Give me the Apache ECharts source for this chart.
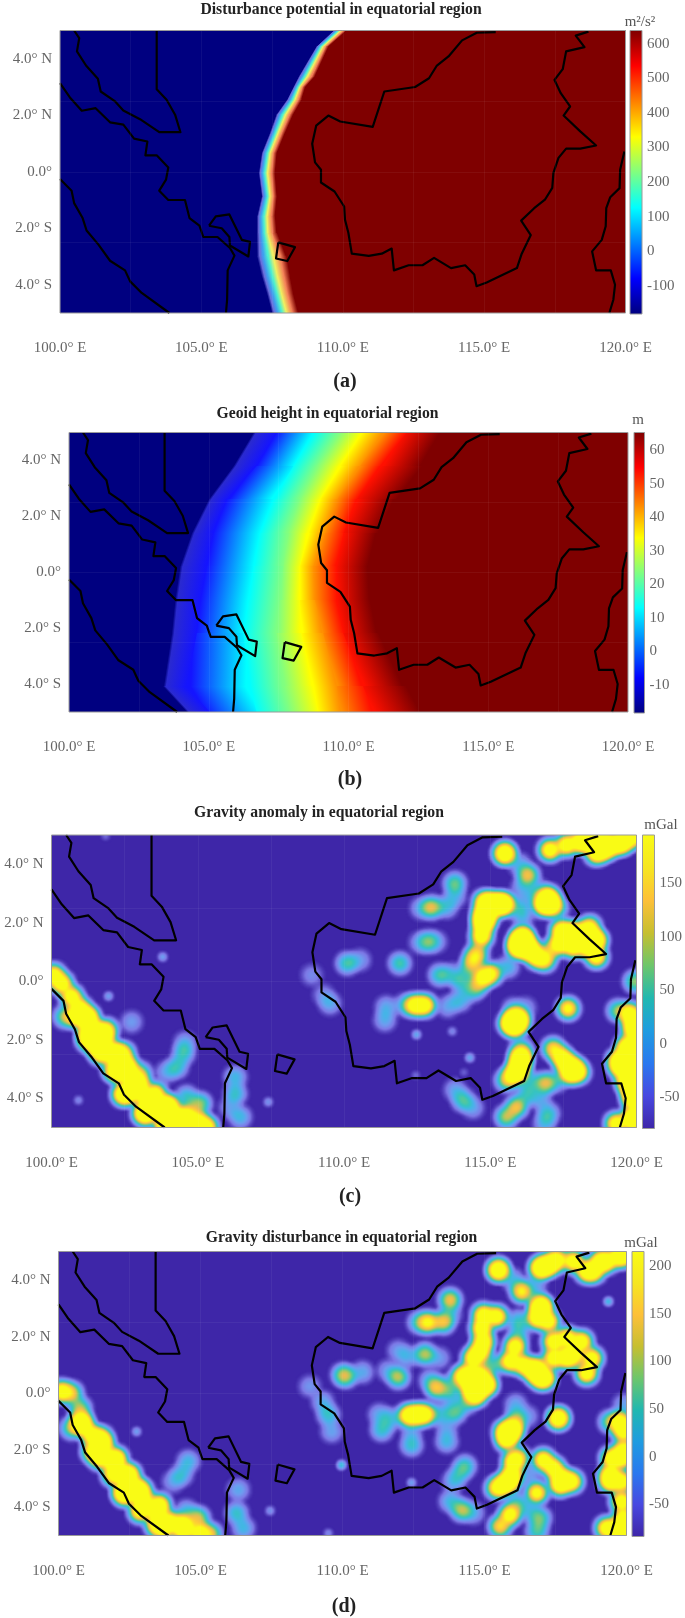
<!DOCTYPE html>
<html><head><meta charset="utf-8">
<style>html,body{margin:0;padding:0;background:#fff}#c{width:685px;height:1618px}</style>
<script src="https://cdn.jsdelivr.net/npm/echarts@6/dist/echarts.min.js"></script>
</head><body><div id="c"></div>
<script>
// ---------- coastlines [lon, lat] ----------
const malayCoast=[[100.50,5],[100.68,4.73],[100.60,4.26],[100.92,3.76],[101.34,3.29],[101.44,2.84],[101.95,2.49],[102.24,2.17],[102.83,1.86],[103.51,1.40],[104.26,1.40],[104.07,2.02],[103.77,2.55],[103.42,2.92],[103.42,5]];
const sumatraEast=[[100,3.14],[100.35,2.63],[100.77,2.16],[101.26,2.25],[101.77,1.75],[102.24,1.67],[102.62,1.17],[103.09,1.07],[103.02,0.58],[103.42,0.58],[103.83,0.15],[103.75,-0.28],[103.51,-0.67],[103.83,-1],[104.42,-1],[104.58,-1.64],[104.93,-1.91],[105.07,-2.31],[105.57,-2.31],[106.01,-2.70],[106.17,-2.97],[105.93,-3.49],[105.91,-4.53],[105.87,-5]];
const sumatraWest=[[100,-0.26],[100.41,-0.67],[100.50,-1.11],[100.80,-1.64],[100.94,-2.08],[101.36,-2.58],[101.77,-3.15],[102.30,-3.49],[102.48,-3.88],[102.89,-4.29],[103.87,-5]];
const bangka=[[105.27,-1.91],[105.51,-1.58],[105.99,-1.51],[106.43,-2.41],[106.72,-2.48],[106.66,-3.0],[106.01,-2.61],[105.99,-2.31],[105.72,-2.0],[105.27,-1.91]];
const belitung=[[107.72,-2.5],[108.31,-2.67],[108.04,-3.16],[107.64,-3.07],[107.72,-2.5]];
const borneo=[[115.41,4.94],[114.74,4.92],[114.22,4.65],[113.74,4.08],[113.33,3.76],[113.05,3.31],[112.56,3.0],[111.47,2.84],[111.06,1.59],[109.91,1.78],[109.49,1.99],[109.06,1.63],[108.92,0.99],[109.02,0.33],[109.23,0.07],[109.23,-0.38],[109.71,-0.70],[110.05,-1.23],[110.08,-1.70],[110.20,-2.17],[110.32,-2.90],[110.92,-2.98],[111.38,-2.90],[111.73,-2.72],[111.81,-3.49],[112.33,-3.31],[112.82,-3.31],[113.23,-3.05],[113.83,-3.41],[114.33,-3.31],[114.65,-3.64],[114.73,-4.05],[115.09,-3.92],[116.16,-3.41],[116.33,-2.90],[116.65,-2.24],[116.31,-1.73],[116.77,-1.29],[117.15,-0.99],[117.41,-0.57],[117.45,-0.04],[117.63,0.49],[117.90,0.82],[118.40,0.82],[118.96,0.93],[118.40,1.43],[117.81,1.99],[118.04,2.31],[117.71,2.78],[117.49,3.25],[117.78,3.63],[117.90,4.26],[118.55,4.41],[118.24,4.82],[118.69,4.96]];
const sulawesi=[[119.96,0.72],[119.81,0.07],[119.79,-0.58],[119.46,-0.90],[119.32,-1.29],[119.30,-1.93],[119.16,-2.41],[118.82,-2.82],[118.96,-3.49],[119.48,-3.49],[119.63,-4.0],[119.57,-4.53],[119.43,-5]];
const coastlines=[malayCoast,sumatraEast,sumatraWest,bangka,belitung,borneo,sulawesi];

// ---------- panel (a): contour lines of disturbance potential, longitude at each latitude ----------
const latsA=[5,4.43,3.37,3,2.55,2.02,1.37,0.66,-0.05,-0.87,-1.58,-2.17,-3,-3.7,-4.3,-5];
const isoA0=[109.67,109.06,108.43,108.25,108.02,107.64,107.41,107.13,107.02,107.13,106.96,106.96,106.96,107.13,107.31,107.49];
const isoA1=[109.72,109.10,108.49,108.29,108.07,107.70,107.47,107.18,107.08,107.18,107.03,107.03,107.07,107.23,107.40,107.58];
const isoA2=[109.77,109.15,108.56,108.34,108.14,107.77,107.53,107.25,107.15,107.25,107.10,107.12,107.19,107.35,107.52,107.70];
const isoA3=[109.85,109.22,108.65,108.41,108.22,107.87,107.62,107.34,107.24,107.34,107.21,107.23,107.36,107.51,107.67,107.85];
const isoA4=[109.93,109.30,108.75,108.48,108.31,107.98,107.71,107.43,107.34,107.43,107.32,107.35,107.54,107.69,107.83,108.01];
const isoA5=[110.04,109.40,108.89,108.58,108.43,108.12,107.84,107.55,107.48,107.55,107.47,107.51,107.79,107.92,108.04,108.22];
const isoA6=[110.14,109.49,109.02,108.67,108.55,108.25,107.96,107.67,107.61,107.67,107.61,107.67,108.02,108.14,108.25,108.43];
const colorsA=['#000080','#6a6cdc','#3f9ff0','#4cf0d0','#f0f060','#f48058','#7f0000'];

// ---------- panel (b): contour lines of geoid height ----------
const latsB=[5,3.8,2.6,1.4,0.2,-1,-2.2,-4.1,-5];
const isoB0=[106.60,105.88,104.99,104.39,103.97,103.79,103.67,103.38,104.21];
const isoB1=[106.70,105.98,105.09,104.49,104.07,103.89,103.77,103.48,104.31];
const isoB2=[107.43,106.71,105.64,105.16,104.93,104.69,104.57,104.21,105.04];
const isoB3=[108.74,108.03,107.31,106.83,106.60,106.42,106.24,106.48,106.71];
const isoB4=[109.70,108.86,108.26,107.79,107.67,107.55,107.43,107.67,107.91];
const isoB5=[110.47,109.70,108.98,108.56,108.26,108.26,108.32,108.74,108.92];
const isoB6=[111.25,110.41,109.58,109.16,108.74,108.80,109.10,109.58,109.70];
const isoB7=[112.08,111.13,110.29,109.82,109.58,109.58,109.82,110.53,110.89];
const isoB8=[113.15,112.68,111.66,111.01,110.65,110.77,111.01,112.02,112.62];
const colorsB=['#000080','#2a2ad0','#1414ff','#00ffff','#80ff80','#ffff00','#ff9000','#ff1000','#7f0000'];

// ---------- panel (c): gravity anomaly features [lon, lat, strength] ----------
const blobsC=[[100.07,0.22,1],[100.35,-0.07,1],[100.69,-0.52,1],[100.98,-0.92,1],[101.23,-1.32,1],[101.49,-1.72,1],[101.78,-2,1],[102.12,-2.46,1],[102.40,-2.86,1],[102.71,-3.26,1],[102.92,-3.71,1],[103.26,-4.05,1],[103.66,-4.34,1],[104.05,-4.57,1],[104.51,-4.79,1],[105.02,-4.79,1],[105.31,-4.97,1],[100.47,-1.2,0.5],[101.55,-2.23,1],[101.26,-2,1],[101.89,-1.66,0.8],[102.46,-2.46,0.8],[102.12,-3.03,0.8],[103.03,-3.14,0.5],[102.57,-3.83,1],[103.26,-4.51,1],[103.94,-4.23,1],[103.94,-4.91,1],[104.62,-3.94,0.3],[105.08,-4.17,0.45],[104.74,-4.51,0.55],
[101.25,-1.2,1],[101.7,-1.78,1],[102.2,-2.46,1],[102.6,-2.9,1],[103,-3.48,1],[103.55,-3.83,1],[104,-4.28,1],[104.5,-4.63,1],[100.85,-1.2,1],[101.25,-1.78,1],[101.7,-2.46,1],[102.3,-3.1,1],[102.45,-3.85,1],[103.15,-4.5,1],[103.9,-4.9,1],
[102.74,-1.38,0.16],[104.51,-2.46,0.3],[104.28,-2.92,0.3],[103.94,-3.09,0.18],[104.57,-2.1,0.2],[106.28,-3.26,0.25],[106.28,-3.83,0.3],[106.45,-4.62,0.25],[106.1,-4.3,0.15],[109.52,-0.75,0.2],[109.3,-0.45,0.12],[108.9,0.22,0.12],
[110.11,0.62,0.35],[110.54,0.73,0.16],[111.91,0.62,0.35],[112.88,1.36,0.35],[112.6,1.33,0.16],[113.15,1.36,0.16],[113.79,3.35,0.4],[113.79,2.9,0.2],[113,2.53,0.55],[112.65,2.5,0.2],[113.5,2.55,0.25],
[115.5,4.37,1],[115.5,4.37,0.6],[117.04,4.49,1],[117.6,4.66,1],[118.06,4.77,1],[118.29,4.77,1],[118.63,4.72,1],[118.63,4.37,1],[118.86,4.49,1],[119.09,4.6,1],[119.43,4.72,1],[119.54,4.77,1],[119.88,4.94,1],[118.86,4.8,1],
[116.29,3.63,0.6],[116.0,4.0,0.2],[116.1,3.2,0.2],[116.7,3.1,0.2],[114.98,2.67,1],[115.44,2.67,1],[114.81,2.72,1],[115.21,2.67,1],[115.44,2.61,1],[114.76,2.32,1],[114.93,2.27,1],[114.76,1.92,1],[114.76,2.1,1],[114.7,1.53,1],[114.55,0.96,0.6],[114.42,0.73,0.6],[114.3,0.45,0.35],[114.76,0.16,0.9],[115.04,0.27,0.8],[114.6,-0.1,0.4],
[116.01,2.55,0.25],[116.1,2.2,0.2],[116.5,2.9,0.2],[116.98,2.72,1],[116.98,2.89,1],[116.81,2.61,1],[117.09,2.61,1],[117.3,2.5,0.3],[116.12,1.41,1],[115.99,1.19,1],[116.12,1.53,1],[115.95,1.18,1],[116.29,1.13,1],[116.58,0.84,1],[116.86,0.73,0.8],[116.01,1.41,1],[116.35,1.1,1],[115.6,0.5,0.25],
[117.6,1.53,1],[118.06,1.53,1],[118.52,1.42,1],[118.63,0.85,1],[117.38,1.3,1],[118.4,1.87,0.8],[117.1,1.1,0.5],[117.43,1.75,1],[117.83,1.7,1],[117.83,1.18,1],[118.29,1.64,1],[118.63,1.41,1],[118.29,1.18,1],
[113.28,0.22,0.35],[113.7,0.25,0.2],[114,0,0.3],[112.42,-0.81,1],[112.76,-0.81,1],[112.1,-0.8,0.25],[111.45,-0.87,0.2],[111.4,-1.32,0.2],[113.96,-0.64,0.25],[113.55,-0.85,0.18],[114.4,-0.3,0.3],
[115.84,-1.38,1],[115.84,-1.26,1],[115.84,-1.55,1],[115.67,-1.43,1],[116.01,-1.32,1],[115.8,-0.95,0.25],[116.2,-0.9,0.15],[117.66,-0.92,0.85],[116.01,-2.69,1],[116.07,-2.57,1],[116.01,-2.92,1],[115.9,-3.09,0.9],[115.78,-3.2,0.8],[115.55,-3.37,0.5],[116.05,-2.3,0.4],[117.15,-2.29,0.7],[117.43,-2.57,0.9],[117.6,-2.8,1],[117.83,-2.92,1],[117.72,-3.14,1],[118,-3.09,1],
[116.86,-3.48,0.55],[116.35,-3.4,0.25],[117.25,-3.4,0.25],[115.9,-4.28,0.6],[115.55,-4.62,0.5],[116.25,-3.85,0.3],[116.98,-4.51,0.3],[116.85,-4.85,0.2],[116.7,-4.0,0.2],[114.07,-4.05,0.35],[113.8,-3.7,0.18],[114.4,-4.3,0.18],
[119.77,-1.09,1],[119.9,-1.4,1],[119.88,-1.66,1],[119.65,-2.23,1],[119.65,-2.58,1],[119.37,-2.69,1],[119.43,-2.92,1],[119.65,-2.92,1],[119.65,-3.37,1],[119.77,-3.6,1],[119.88,-3.83,1],[119.88,-4.05,1],[119.88,-4.62,1],[119.88,-4.74,1],[119.31,-4.85,1],[119.88,-2.2,1],[119.94,-2.69,1],[119.37,-1,0.45],[119.94,0,0.45],[119.9,-3,1]];
const dotsC=[[103.80,0.84,0.3],[101.95,-0.5,0.3],[100.92,-4.05,0.2],[107.41,-4.11,0.25],[112.48,-1.81,0.35],[113.70,-1.7,0.2],[114.3,-2.6,0.35],[101.85,4.97,0.12],[112.45,-3.2,0.12],[114.1,-3.1,0.1]];

// ---------- panel (d): gravity disturbance features [lon, lat, strength] ----------
const blobsD=[[100.11,0.07,1],[100.46,0.01,0.6],[100.75,-0.52,0.5],[100.81,-0.99,1],[101.16,-1.46,1],[101.57,-1.81,1],[101.93,-2.39,1],[102.34,-2.86,1],[102.75,-3.33,1],[102.98,-3.8,1],[103.45,-4.15,1],[103.92,-4.51,1],[104.39,-4.8,1],[104.98,-4.92,1],[105.35,-4.95,0.6],[101.46,-2.28,1],[102.28,-3.45,1],[103.45,-4.62,1],[100.46,-1.22,0.45],[104.92,-4.39,0.55],[104.51,-4.15,0.25],
[100.8,-1.1,1],[101.5,-1.57,1],[102.03,-2.28,1],[102.5,-2.86,1],[102.91,-3.45,1],[103.56,-3.92,1],[104.38,-4.62,1],[101.22,-2.04,1],[101.93,-2.86,1],[102.34,-3.57,1],[102.87,-4.15,1],[103.69,-4.74,1],
[104.57,-2.39,0.25],[104.33,-2.86,0.25],[104.04,-3.1,0.16],[106.33,-3.39,0.2],[106.27,-4.21,0.3],[106.51,-4.74,0.25],[108.85,0.25,0.15],[109.5,-0.75,0.3],[109.3,-0.3,0.2],[109.62,-1.34,0.18],[110,0.66,0.35],
[115.49,4.35,1],[115.49,4.35,0.6],[117.07,4.47,1],[117.31,4.53,1],[117.54,4.71,1],[118.13,4.65,1],[118.84,4.3,1],[119.07,4.65,1],[119.3,4.65,1],[119.77,4.82,1],[118.6,4.3,1],[116.96,4.41,1],[119.9,4.9,1],
[116.31,3.59,0.8],[116.0,4.0,0.22],[116.8,3.85,0.18],[113.79,3.3,0.6],[113.79,2.8,0.2],[113.02,2.5,0.8],[113.55,2.51,0.6],[112.7,2.5,0.35],[112.9,1.38,0.5],[112.3,1.3,0.2],[111.96,1.5,0.16],[113.4,1.25,0.16],
[111.96,0.58,0.5],[110.14,0.6,0.35],[110.7,0.75,0.2],[111.6,0.8,0.16],[113.32,0.19,0.6],[113.1,0.45,0.25],[113.8,0.3,0.25],
[114.96,2.77,1],[115.43,2.71,1],[114.9,2.3,1],[114.96,1.83,1],[114.61,1.24,1],[114.84,1.48,1],[114.43,0.66,1],[114.84,0.66,1],[115.08,0.31,1],[114.61,0.07,1],[114.49,0.3,1],[114.96,0.3,1],[114.72,-0.05,1],[114.2,0.6,0.8],
[117.02,3.06,1],[116.84,2.65,1],[117.25,2.54,1],[116.96,3,1],[116.2,2.55,0.3],[116.2,2.1,0.25],[116.85,3.3,0.25],
[116.08,1.65,1],[115.9,1.13,1],[116.37,1.01,1],[116.84,0.89,1],[117.13,0.54,1],[117.43,1.24,1],[117.43,1.83,1],[117.9,1.95,1],[118.42,1.83,1],[118.78,1.24,1],[118.6,0.71,1],[118.13,1.36,1],[116.96,0.54,1],[116.72,0.77,1],[117.9,1.25,1],[115.3,1,0.35],
[112.61,-0.74,1],[112.32,-0.77,1],[112.9,-0.74,1],[111.38,-1.28,0.3],[111.3,-0.75,0.2],[111.7,-0.9,0.25],[112.43,-1.81,0.3],[112.43,-1.3,0.16],[113.67,-1.69,0.25],[113.67,-1.2,0.16],[113.96,-0.66,0.4],[113.43,-0.72,0.25],[114.4,-0.3,0.35],[113.8,-0.05,0.25],
[115.72,-1.34,1],[116.02,-1.22,1],[115.78,-1.63,1],[115.9,-1.4,1],[116.1,-0.9,0.4],[116.1,-0.4,0.2],[116.5,-0.8,0.16],[117.6,-0.87,1],[117.6,-0.87,0.5],[116.02,-2.39,1],[115.96,-2.86,1],[115.9,-3.1,1],[115.66,-3.22,1],[115.43,-3.33,0.8],[116.2,-2.25,0.6],[117.07,-2.34,1],[117.43,-2.63,1],[117.72,-2.98,1],[118.07,-3.1,1],[117.66,-3.22,1],
[116.84,-3.5,0.9],[116.6,-2.85,0.16],[115.9,-4.27,0.95],[115.55,-4.68,0.7],[116.15,-3.9,0.35],[116.95,-4.39,0.4],[116.6,-4.15,0.2],[116.85,-4.85,0.35],[114.31,-2.56,0.35],[113.9,-3.1,0.2],[114.1,-2.85,0.2],[114.2,-4.1,0.5],[113.8,-3.8,0.25],[114.6,-4.2,0.2],
[119.9,-0.4,0.18],[119.42,-1,0.45],[119.77,-0.99,1],[119.89,-1.34,1],[119.48,-2.28,1],[119.83,-2.28,1],[119.42,-2.86,1],[119.83,-3.1,1],[119.9,-2,1],[119.42,-3.1,1],[119.83,-3.8,1],[119.89,-4.39,1],[119.3,-4.74,1],[119.66,-4.8,1],[119.9,-4.85,1]];
const dotsD=[[102.75,-1.34,0.3],[107.45,-4.13,0.25],[109.5,-4.92,0.2],[109.97,-2.5,0.35],[112.43,-3.14,0.3],[119.36,3.24,0.45],[109.95,-2.55,0.2]];

// ---------- colour scales and ticks ----------
const jetStops=['#7f0000','#ff0000','#ff8000','#ffff00','#80ff80','#00ffff','#0080ff','#0000ff','#00007f'];
const parulaStopsC=['#f9fb15','#f6e620','#fdc039','#c6bf30','#6dc66b','#21b8b0','#1f9ce0','#2a78ef','#4848e0','#3e26a8'];
const fieldColors=['#3e26a8','#7d78e6','#6f9cf0','#45b5e8','#35c4c0','#60c98f','#a8c860','#e8bc50','#fdc83a','#fce028','#f9fb15','#f9fb15','#f9fb15','#f9fb15','#f9fb15'];
const ticksA=[-100,0,100,200,300,400,500,600];
const ticksB=[-10,0,10,20,30,40,50,60];
const ticksC=[-50,0,50,100,150];
const ticksD=[-50,0,50,100,150,200];

const panels=[
 {title:'Disturbance potential in equatorial region',tx:341,ty:10,cap:'(a)',cx:345,cy:382,unit:'m²/s²',ux:640,uy:22,l:60,r:625.5,t:30.5,b:313,cl:630,cr:642,range:[-182,639],ticks:ticksA,stops:jetStops,lats:latsA,iso:[isoA0,isoA1,isoA2,isoA3,isoA4,isoA5,isoA6],cols:colorsA},
 {title:'Geoid height in equatorial region',tx:327.5,ty:414,cap:'(b)',cx:350,cy:780,unit:'m',ux:638,uy:420,l:69,r:628,t:432.5,b:712,cl:634,cr:644.5,range:[-18.4,65.3],ticks:ticksB,stops:jetStops,lats:latsB,iso:[isoB0,isoB1,isoB2,isoB3,isoB4,isoB5,isoB6,isoB7,isoB8],cols:colorsB},
 {title:'Gravity anomaly in equatorial region',tx:319,ty:813,cap:'(c)',cx:350,cy:1197,unit:'mGal',ux:661,uy:825,l:51.5,r:636.5,t:835,b:1127.5,cl:642.5,cr:654.5,range:[-79,195],ticks:ticksC,stops:parulaStopsC,blobs:blobsC,dots:dotsC},
 {title:'Gravity disturbance in equatorial region',tx:341.5,ty:1238,cap:'(d)',cx:344,cy:1607,unit:'mGal',ux:641,uy:1243,l:58.5,r:626.5,t:1251.5,b:1535.5,cl:632,cr:644,range:[-84,215.5],ticks:ticksD,stops:parulaStopsC,blobs:blobsD,dots:dotsD}
];

echarts.registerMap('box',{type:'FeatureCollection',features:[{type:'Feature',properties:{name:'box'},geometry:{type:'Polygon',coordinates:[[[100,-5],[120,-5],[120,5],[100,5],[100,-5]]]}}]});

const fmtLon=v=>(v%5===0)?v.toFixed(1)+'° E':'';
const fmtLat=v=>(v%2!==0)?'':(v===0?'0.0°':Math.abs(v).toFixed(1)+'° '+(v>0?'N':'S'));
const txt={fontFamily:'Liberation Serif',color:'#666',fontSize:15};

function contourRender(p){
 return function(params,api){
  const kids=[];const n=p.lats.length,m=p.iso.length;
  for(let j=0;j<n-1;j++){
   const a=p.lats[j],b=p.lats[j+1];
   const pa=api.coord([100,a]),pb=api.coord([120,b]);
   const up=Math.floor(pa[1]),dn=Math.ceil(pb[1]);
   kids.push({type:'polygon',shape:{points:[[pa[0],up],[pb[0],up],[pb[0],dn],[pa[0],dn]]},style:{fill:p.cols[0]}});
   for(let k=0;k<m-1;k++){
    const p1=api.coord([p.iso[k][j],a]),p2=api.coord([p.iso[k][j+1],b]);
    const q1=api.coord([p.iso[k+1][j],a]),q2=api.coord([p.iso[k+1][j+1],b]);
    const ax=(p1[0]+p2[0])/2,ay=(p1[1]+p2[1])/2,bx=(q1[0]+q2[0])/2,by=(q1[1]+q2[1])/2;
    let dx=(p2[0]-p1[0]+q2[0]-q1[0])/2,dy=(p2[1]-p1[1]+q2[1]-q1[1])/2;
    const L=Math.hypot(dx,dy);const nx=dy/L,ny=-dx/L;
    const t=(bx-ax)*nx+(by-ay)*ny;
    const g=new echarts.graphic.LinearGradient(ax,ay,ax+nx*t,ay+ny*t,[{offset:0,color:p.cols[k]},{offset:1,color:p.cols[k+1]}],true);
    const sl=(p2[0]-p1[0])/(p2[1]-p1[1]);
    kids.push({type:'polygon',shape:{points:[[p1[0]-sl*(p1[1]-up),up],[pb[0],up],[pb[0],dn],[p2[0]+sl*(dn-p2[1]),dn]]},style:{fill:g}});
   }
  }
  return {type:'group',children:kids};
 };
}

const opt={animation:false,title:[],grid:[],xAxis:[],yAxis:[],geo:[],visualMap:[],series:[]};
panels.forEach((p,i)=>{
 const w=p.r-p.l,h=p.b-p.t;
 opt.title.push({text:p.title,left:p.tx,top:p.ty,padding:0,textAlign:'center',textVerticalAlign:'middle',textStyle:{fontFamily:'Liberation Serif',fontWeight:'bold',fontSize:15.7,color:'#222'}});
 opt.title.push({text:p.cap,left:p.cx,top:p.cy,padding:0,textAlign:'center',textVerticalAlign:'middle',textStyle:{fontFamily:'Liberation Serif',fontWeight:'bold',fontSize:20,color:'#222'}});
 opt.title.push({text:p.unit,left:p.ux,top:p.uy,padding:0,textAlign:'center',textVerticalAlign:'middle',textStyle:{fontFamily:'Liberation Serif',fontWeight:'normal',fontSize:15,color:'#555'}});
 const gi=opt.grid.length;
 opt.grid.push({left:p.l,top:p.t,width:w,height:h,show:true,borderColor:'#9a9a9a',borderWidth:1,backgroundColor:'transparent',z:8,containLabel:false});
 const xi=opt.xAxis.length,yi=opt.yAxis.length;
 opt.xAxis.push({type:'value',gridIndex:gi,min:100,max:120,interval:2.5,z:7,axisLine:{show:false},axisTick:{show:false},
   axisLabel:{formatter:fmtLon,margin:28,hideOverlap:false,...txt},splitLine:{show:true,lineStyle:{color:'rgba(255,255,255,0.05)',width:1}}});
 opt.yAxis.push({type:'value',gridIndex:gi,min:-5,max:5,interval:1,z:7,axisLine:{show:false},axisTick:{show:false},
   axisLabel:{formatter:fmtLat,margin:8,padding:[17,0,0,0],...txt},splitLine:{show:false}});
 opt.yAxis.push({type:'value',gridIndex:gi,min:-5,max:5,interval:2.5,z:7,position:'left',axisLine:{show:false},axisTick:{show:false},axisLabel:{show:false},
   splitLine:{show:true,lineStyle:{color:'rgba(255,255,255,0.05)',width:1}}});
 if(p.iso){
  opt.series.push({type:'custom',xAxisIndex:xi,yAxisIndex:yi,data:[[100,0]],clip:true,silent:true,z:2,renderItem:contourRender(p)});
 }else{
  const gIdx=opt.geo.length;
  opt.geo.push({map:'box',left:p.l,top:p.t,width:w,height:h,aspectScale:(w/h)/2,roam:false,silent:true,z:1,
    label:{show:false},itemStyle:{areaColor:'#3e26a8',borderWidth:0},emphasis:{disabled:true},select:{disabled:true},tooltip:{show:false}});
  const s1=opt.series.length;
  opt.series.push({type:'heatmap',coordinateSystem:'geo',geoIndex:gIdx,data:p.blobs,pointSize:9,blurSize:8,minOpacity:1,maxOpacity:1,z:2,silent:true});
  opt.series.push({type:'heatmap',coordinateSystem:'geo',geoIndex:gIdx,data:p.dots,pointSize:3,blurSize:5,minOpacity:1,maxOpacity:1,z:2,silent:true});
  opt.visualMap.push({type:'continuous',show:false,min:0,max:1,dimension:2,seriesIndex:[s1,s1+1],inRange:{color:fieldColors}});
 }
 coastlines.forEach(c=>opt.series.push({type:'line',xAxisIndex:xi,yAxisIndex:yi,data:c,showSymbol:false,clip:true,silent:true,z:6,lineStyle:{color:'#000',width:2.2,join:'round'}}));
 // colour bar
 const cg=opt.grid.length;
 opt.grid.push({left:p.cl,top:p.t,width:p.cr-p.cl,height:h+1,show:true,borderColor:'#9a9a9a',borderWidth:1,backgroundColor:'transparent',z:8});
 const cx=opt.xAxis.length,cy=opt.yAxis.length;
 opt.xAxis.push({type:'value',gridIndex:cg,min:0,max:1,show:false});
 opt.yAxis.push({type:'value',gridIndex:cg,min:p.range[0],max:p.range[1],position:'right',axisLine:{show:false},splitLine:{show:false},
   axisTick:{show:true,length:2,lineStyle:{color:'#666'},customValues:p.ticks},axisLabel:{customValues:p.ticks,margin:5,...txt}});
 opt.series.push({type:'custom',xAxisIndex:cx,yAxisIndex:cy,data:[[0,p.range[0]]],silent:true,z:2,renderItem:(params,api)=>{
   const a=api.coord([0,p.range[1]]),b=api.coord([1,p.range[0]]);
   return {type:'rect',shape:{x:a[0],y:a[1],width:b[0]-a[0],height:b[1]-a[1]},
     style:{fill:new echarts.graphic.LinearGradient(0,0,0,1,p.stops.map((c,k)=>({offset:k/(p.stops.length-1),color:c})))}};
 }});
});
const chart=echarts.init(document.getElementById('c'),null,{renderer:'canvas'});
chart.setOption(opt);
</script></body></html>
